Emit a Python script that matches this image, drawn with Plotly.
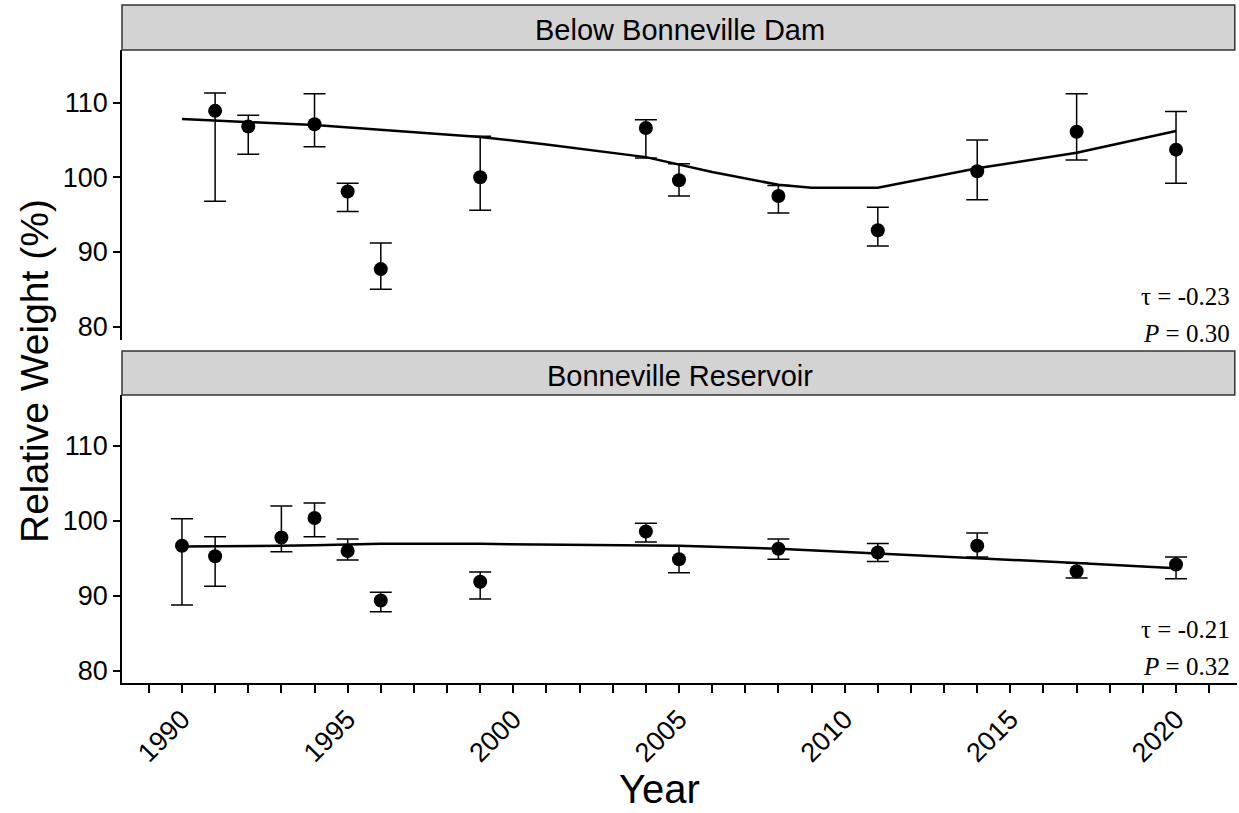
import plotly.graph_objects as go

# ---- data: Below Bonneville Dam ----
dam_years = [1991, 1992, 1994, 1995, 1996, 1999, 2004, 2005, 2008, 2011, 2014, 2017, 2020]
dam_wr = [108.9, 106.8, 107.1, 98.1, 87.7, 100.0, 106.6, 99.6, 97.5, 92.9, 100.8, 106.1, 103.7]
dam_upper = [111.3, 108.3, 111.2, 99.2, 91.2, 105.5, 107.7, 101.8, 98.9, 96.0, 105.0, 111.2, 108.8]
dam_lower = [96.8, 103.1, 104.1, 95.4, 85.0, 95.6, 102.6, 97.5, 95.2, 90.8, 97.0, 102.3, 99.2]
dam_fit_years = [1990, 1994, 1999, 2001, 2004, 2005, 2006, 2008, 2009, 2011, 2014, 2017, 2020]
dam_fit = [107.8, 107.0, 105.4, 104.4, 102.7, 101.7, 100.7, 99.0, 98.6, 98.6, 101.2, 103.3, 106.2]

# ---- data: Bonneville Reservoir ----
res_years = [1990, 1991, 1993, 1994, 1995, 1996, 1999, 2004, 2005, 2008, 2011, 2014, 2017, 2020]
res_wr = [96.7, 95.3, 97.8, 100.4, 96.0, 89.4, 91.9, 98.6, 94.9, 96.3, 95.8, 96.7, 93.3, 94.2]
res_upper = [100.3, 97.9, 102.0, 102.4, 97.6, 90.5, 93.2, 99.7, 96.7, 97.6, 97.0, 98.4, 94.4, 95.2]
res_lower = [88.8, 91.3, 95.9, 97.9, 94.8, 87.9, 89.6, 97.2, 93.1, 94.9, 94.6, 95.2, 92.4, 92.3]
res_fit_years = [1990, 1991, 1993, 1994, 1995, 1996, 1999, 2004, 2005, 2008, 2011, 2014, 2017, 2020]
res_fit = [96.6, 96.6, 96.7, 96.75, 96.85, 96.95, 96.95, 96.8, 96.7, 96.3, 95.7, 95.1, 94.4, 93.7]

panel_titles = ["Below Bonneville Dam", "Bonneville Reservoir"]
stats_tau = ["τ = -0.23", "τ = -0.21"]
stats_p = ["<i>P</i> = 0.30", "<i>P</i> = 0.32"]

y_ticks = [80, 90, 100, 110]
x_label_years = [1990, 1995, 2000, 2005, 2010, 2015, 2020]
x_all_years = list(range(1988, 2022))
x_ticktext = [str(y) if y in x_label_years else "" for y in x_all_years]

fig = go.Figure()

def add_panel(years, wr, up, lo, fyears, fit, yaxis):
    fig.add_trace(go.Scatter(
        x=fyears, y=fit, mode="lines", line=dict(color="black", width=2.5),
        xaxis="x", yaxis=yaxis, showlegend=False, hoverinfo="skip"))
    fig.add_trace(go.Scatter(
        x=years, y=wr, mode="markers",
        marker=dict(color="black", size=14),
        error_y=dict(type="data", symmetric=False,
                     array=[u - v for u, v in zip(up, wr)],
                     arrayminus=[v - l for l, v in zip(lo, wr)],
                     color="black", thickness=1.5, width=11),
        xaxis="x", yaxis=yaxis, showlegend=False))

add_panel(dam_years, dam_wr, dam_upper, dam_lower, dam_fit_years, dam_fit, "y2")
add_panel(res_years, res_wr, res_upper, res_lower, res_fit_years, res_fit, "y")

FONT = "Liberation Sans, Arial, sans-serif"
SERIF = "Liberation Serif, Times New Roman, serif"
tickfont = dict(family=FONT, size=27, color="black")

yax_common = dict(
    tickvals=y_ticks, ticks="outside", ticklen=7, tickwidth=1.5,
    tickcolor="black", showline=True, linecolor="black", linewidth=1.5,
    showgrid=False, zeroline=False, tickfont=tickfont, mirror=False)

fig.update_layout(
    width=1239, height=813,
    margin=dict(l=122, r=2, t=5, b=130),
    paper_bgcolor="white", plot_bgcolor="white",
    xaxis=dict(range=[1988.19, 2021.84], tickvals=x_all_years, ticktext=x_ticktext,
               tickangle=-45, ticks="outside", ticklen=8, tickwidth=1.5, tickcolor="black",
               showline=True, linecolor="black", linewidth=1.5, showgrid=False,
               zeroline=False, tickfont=tickfont, anchor="y"),
    yaxis=dict(domain=[0, 0.4248], range=[78.4, 116.8], **yax_common),
    yaxis2=dict(domain=[0.5059, 0.9336], anchor="x", range=[78.2, 117.05], **yax_common),
)

# strips
strip_ranges = [(0.9336, 1.0), (0.4248, 0.4897)]
for (y0, y1), title in zip(strip_ranges, panel_titles):
    fig.add_shape(type="rect", xref="paper", yref="paper", x0=0, x1=0.998, y0=y0, y1=y1,
                  fillcolor="#d3d3d3", line=dict(color="#333333", width=1.5), layer="below")
    fig.add_annotation(xref="paper", yref="paper", x=0.5, y=(y0 + y1) / 2 - 0.004,
                       xanchor="center", yanchor="middle",
                       text=title, showarrow=False,
                       font=dict(family=FONT, size=29, color="black"))

# stats
stat_pos = [(0.5698, 0.5162), (0.0782, 0.0236)]
for (yt, yp), t, p in zip(stat_pos, stats_tau, stats_p):
    fig.add_annotation(xref="paper", yref="paper", x=0.9955, y=yt,
                       xanchor="right", yanchor="middle",
                       text=t, showarrow=False,
                       font=dict(family=SERIF, size=25, color="black"))
    fig.add_annotation(xref="paper", yref="paper", x=0.9955, y=yp,
                       xanchor="right", yanchor="middle",
                       text=p, showarrow=False,
                       font=dict(family=SERIF, size=25, color="black"))

# axis titles
fig.add_annotation(xref="paper", yref="paper", x=-0.078, y=0.4602, text="Relative Weight (%)",
                   xanchor="center", yanchor="middle",
                   textangle=-90, showarrow=False,
                   font=dict(family=FONT, size=39, color="black"))
fig.add_annotation(xref="paper", yref="paper", x=0.4825, y=-0.1563, text="Year",
                   xanchor="center", yanchor="middle",
                   showarrow=False, font=dict(family=FONT, size=40, color="black"))

fig.write_html("out.html", config={"displayModeBar": False},
               post_script="document.body.style.margin='0';")
